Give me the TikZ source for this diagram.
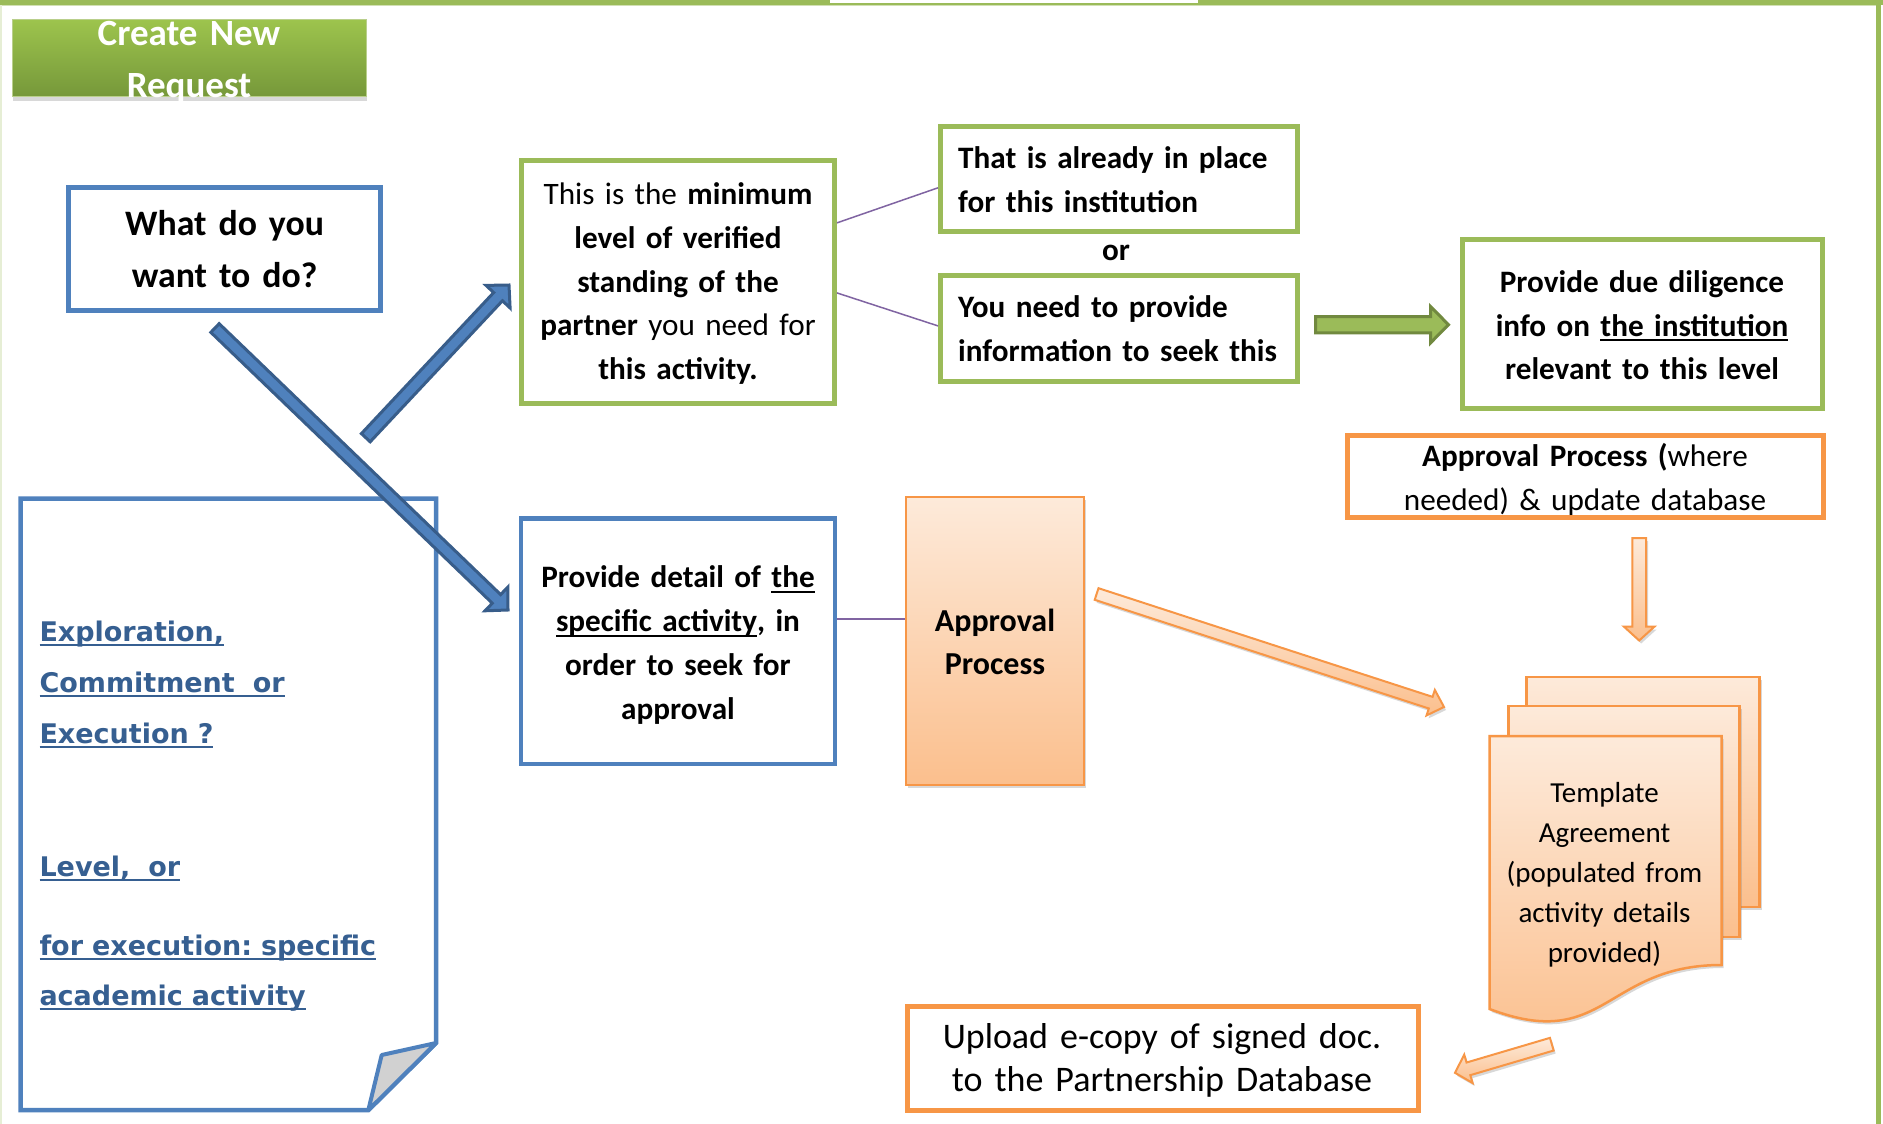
\documentclass[tikz,border=0pt]{standalone}
\usepackage{fontspec}
\setmainfont{Carlito}
\newfontfamily\verdfont{DejaVu Sans}
\usetikzlibrary{calc,shadows}
\frenchspacing
\definecolor{bblue}{HTML}{4F81BD}
\definecolor{bbluedark}{HTML}{385D8A}
\definecolor{bgreen}{HTML}{9BBB59}
\definecolor{bgreendark}{HTML}{71893F}
\definecolor{borange}{HTML}{F79646}
\definecolor{bpurple}{HTML}{8064A2}
\definecolor{doctext}{HTML}{365F91}
\definecolor{olight}{HTML}{FDEADA}
\definecolor{odark}{HTML}{FBBF8D}
\definecolor{cgreenT}{HTML}{9DC44D}
\definecolor{cgreenB}{HTML}{76983A}
\newcommand\myul[1]{\leavevmode\setbox0\hbox{#1}\rlap{\rule[-0.16em]{\wd0}{0.055em}}\box0}
\newcommand\mydocul[1]{\leavevmode\setbox0\hbox{#1}\rlap{\rule[-0.2em]{\wd0}{0.08em}}\box0}
% #1 style, #2 tail, #3 tip, #4 shaft half width, #5 head half width, #6 head length
\newcommand\blockarrow[6]{%
  \path[#1] let \p1=($(#3)!#6!(#2)$) in
    ($(#2)!#4!90:(#3)$) -- ($(\p1)!#4!90:(#3)$) -- ($(\p1)!#5!90:(#3)$) -- (#3)
    -- ($(\p1)!#5!-90:(#3)$) -- ($(\p1)!#4!-90:(#3)$) -- ($(#2)!#4!-90:(#3)$) -- cycle;}
\tikzset{
  bluebox/.style={draw=bblue, line width=4.5pt, fill=white, inner sep=0pt},
  greenbox/.style={draw=bgreen, line width=5pt, fill=white, inner sep=0pt},
  orangebox/.style={draw=borange, line width=5pt, fill=white, inner sep=0pt},
  createbox/.style={draw=bgreen!70!white, line width=1pt, top color=cgreenT, bottom color=cgreenB, inner sep=0pt,
     drop shadow={opacity=0.3, shadow xshift=1pt, shadow yshift=-4pt}},
  apprbox/.style={draw=borange, line width=2pt, top color=olight, bottom color=odark, inner sep=0pt,
     drop shadow={opacity=0.3, shadow xshift=2pt, shadow yshift=-3pt}},
  pagestyle/.style={draw=borange, line width=2.5pt, top color=olight, bottom color=odark, line join=miter,
     drop shadow={opacity=0.3, shadow xshift=2pt, shadow yshift=-3pt}},
  txtc/.style={inner sep=0pt, anchor=base, text width=480pt, align=center},
  txtl/.style={inner sep=0pt, anchor=base west, text width=480pt, align=left},
  b32/.style={font=\bfseries\fontsize{31.2}{43.8}\selectfont},
  doctxt/.style={txtl, text=doctext, font=\verdfont\bfseries\fontsize{27}{51}\selectfont},
  barrow/.style={fill=bblue, draw=bbluedark, line width=3pt, line join=miter},
  garrow/.style={fill=bgreen, draw=bgreendark, line width=3pt, line join=miter},
  oarrow/.style={draw=borange, line width=2pt, top color=olight, bottom color=odark, line join=miter,
     drop shadow={opacity=0.3, shadow xshift=2pt, shadow yshift=-3pt}},
  purp/.style={draw=bpurple, line width=1.5pt}
}
\begin{document}
\begin{tikzpicture}[x=1pt,y=-1pt]
\useasboundingbox (0,0) rectangle (1883,1124);
\fill[white] (0,0) rectangle (1883,1124);
% outer frame
\fill[bgreen] (0,0) rectangle (1883,5);
\fill[white] (830,0) rectangle (1198,3.5);
\fill[bgreen!45] (0,5) rectangle (1876,6.5);
\draw[bgreen, line width=5pt] (1878.5,0) -- (1878.5,1124);
\draw[bgreen!25, line width=2pt] (1,5) -- (1,1124);

% create new request
\node[createbox, minimum width=354pt, minimum height=77pt] (create) at (189,58) {};
\node[txtc, text=white, font=\bfseries\fontsize{37}{51.7}\selectfont] (createt) at (189,46) {Create New\\Request};

% what do you want
\node[bluebox, minimum width=312.4pt, minimum height=123.1pt] (what) at (224.5,248.8) {};
\node[txtc, font=\bfseries\fontsize{35.8}{51.7}\selectfont] (whatt) at (224.6,235.5) {What do you\\want to do?};

% minimum level box
\node[greenbox, minimum width=313.5pt, minimum height=243.5pt] (minb) at (677.75,281.75) {};
\node[txtc, font=\fontsize{31.2}{43.8}\selectfont] (mint) at (678,204.5) {This is the \textbf{minimum}\\\textbf{level of verified}\\\textbf{standing of the}\\\textbf{partner} you need for\\\textbf{this activity.}};

% that / you
\node[greenbox, minimum width=356.5pt, minimum height=105pt] (that) at (1118.75,179) {};
\node[txtl, b32] (thatt) at (958,168.3) {That is already in place\\for this institution};
\node[txtc, b32] (ort) at (1116,260.5) {or};
\node[greenbox, minimum width=356.5pt, minimum height=106pt] (you) at (1118.75,328.8) {};
\node[txtl, b32] (yout) at (958,317.3) {You need to provide\\information to seek this};

% due diligence
\node[greenbox, minimum width=360pt, minimum height=169pt] (due) at (1642.5,323.7) {};
\node[txtc, b32] (duet) at (1642,292.2) {Provide due diligence\\info on \myul{the institution}\\relevant to this level};

% approval where needed
\node[orangebox, minimum width=476pt, minimum height=82.3pt] (need) at (1585.3,476.4) {};
\node[txtc, font=\fontsize{31.2}{44.3}\selectfont] (needt) at (1585,466) {\textbf{Approval Process (}where\\needed) \& update database};

% provide detail
\node[bluebox, minimum width=314pt, minimum height=245.5pt] (prov) at (678,641.25) {};
\node[txtc, b32] (provt) at (678,587.8) {Provide detail of \myul{the}\\\myul{specific activity}, in\\order to seek for\\approval};

% approval process
\node[apprbox, minimum width=177.7pt, minimum height=288pt] (appr) at (994.85,641) {};
\node[txtc, font=\bfseries\fontsize{32}{43.3}\selectfont] (apprt) at (995,631) {Approval\\Process};

% upload
\node[orangebox, minimum width=511.5pt, minimum height=104.3pt] (upl) at (1162.75,1058.65) {};
\node[txtc, font=\fontsize{36}{42.5}\selectfont] (uplt) at (1162,1048.8) {Upload e-copy of signed doc.\\to the Partnership Database};

% template pages
\path[pagestyle] (1526.5,677) rectangle (1759.5,907);
\path[pagestyle] (1508.5,706.2) rectangle (1739.5,937);
\path[pagestyle] (1489.5,736.2) -- (1721.5,736.2) -- (1721.5,965) .. controls (1605,965) and (1605,1053) .. (1489.5,1009) -- cycle;
\node[txtc, font=\fontsize{29}{40}\selectfont] (tmplt) at (1604.5,802) {Template\\Agreement\\(populated from\\activity details\\provided)};

% document box on the left
\draw[bblue, line width=4.5pt, fill=white, line join=miter] (20.5,498.7) -- (436,498.7) -- (436,1043) -- (368.3,1110.2) -- (20.5,1110.2) -- cycle;
\draw[bblue, line width=4pt, fill=black!18, line join=round] (436,1043) -- (381.7,1055) -- (368.3,1110.2) -- cycle;
\node[doctxt] (doct1) at (39.3,641) {\mydocul{Exploration,}\\\mydocul{Commitment\ \ or}\\\mydocul{Execution ?}};
\node[doctxt] (doct2) at (39.3,876) {\mydocul{Level,\ \ or}};
\node[doctxt, font=\verdfont\bfseries\fontsize{27}{50}\selectfont] (doct3) at (39.3,955) {\mydocul{for execution: specific}\\\mydocul{academic activity}};

% connectors (thin purple)
\draw[purp] ($(minb.north east)!0.263!(minb.south east)$) -- ($(that.north west)!0.58!(that.south west)$);
\draw[purp] ($(minb.north east)!0.545!(minb.south east)$) -- ($(you.north west)!0.474!(you.south west)$);
\draw[purp] ($(prov.north east)!0.41!(prov.south east)$) coordinate (pp) -- (pp -| appr.west);

% block arrows
\coordinate (la1) at (215,328);     \coordinate (la2) at (508,610);
\coordinate (sa1) at (365.8,437.7); \coordinate (sa2) at (509,285);
\coordinate (ga1) at (1315.5,324.7); \coordinate (ga2) at (1448.5,324.7);
\coordinate (oa1) at (1096.6,594);  \coordinate (oa2) at (1444,707);
\coordinate (da1) at (1639.2,538);  \coordinate (da2) at (1639.2,640.5);
\coordinate (ua1) at (1551.8,1044.2); \coordinate (ua2) at (1455,1072.8);
\blockarrow{barrow}{la1}{la2}{6pt}{16.5pt}{16pt}
\blockarrow{barrow}{sa1}{sa2}{6pt}{16.5pt}{16pt}
\blockarrow{garrow}{ga1}{ga2}{8.2pt}{18.2pt}{18pt}
\blockarrow{oarrow}{oa1}{oa2}{6.1pt}{13.4pt}{14pt}
\blockarrow{oarrow}{da1}{da2}{6.8pt}{15.4pt}{14pt}
\blockarrow{oarrow}{ua1}{ua2}{6.6pt}{14.8pt}{14pt}
\end{tikzpicture}
\end{document}
